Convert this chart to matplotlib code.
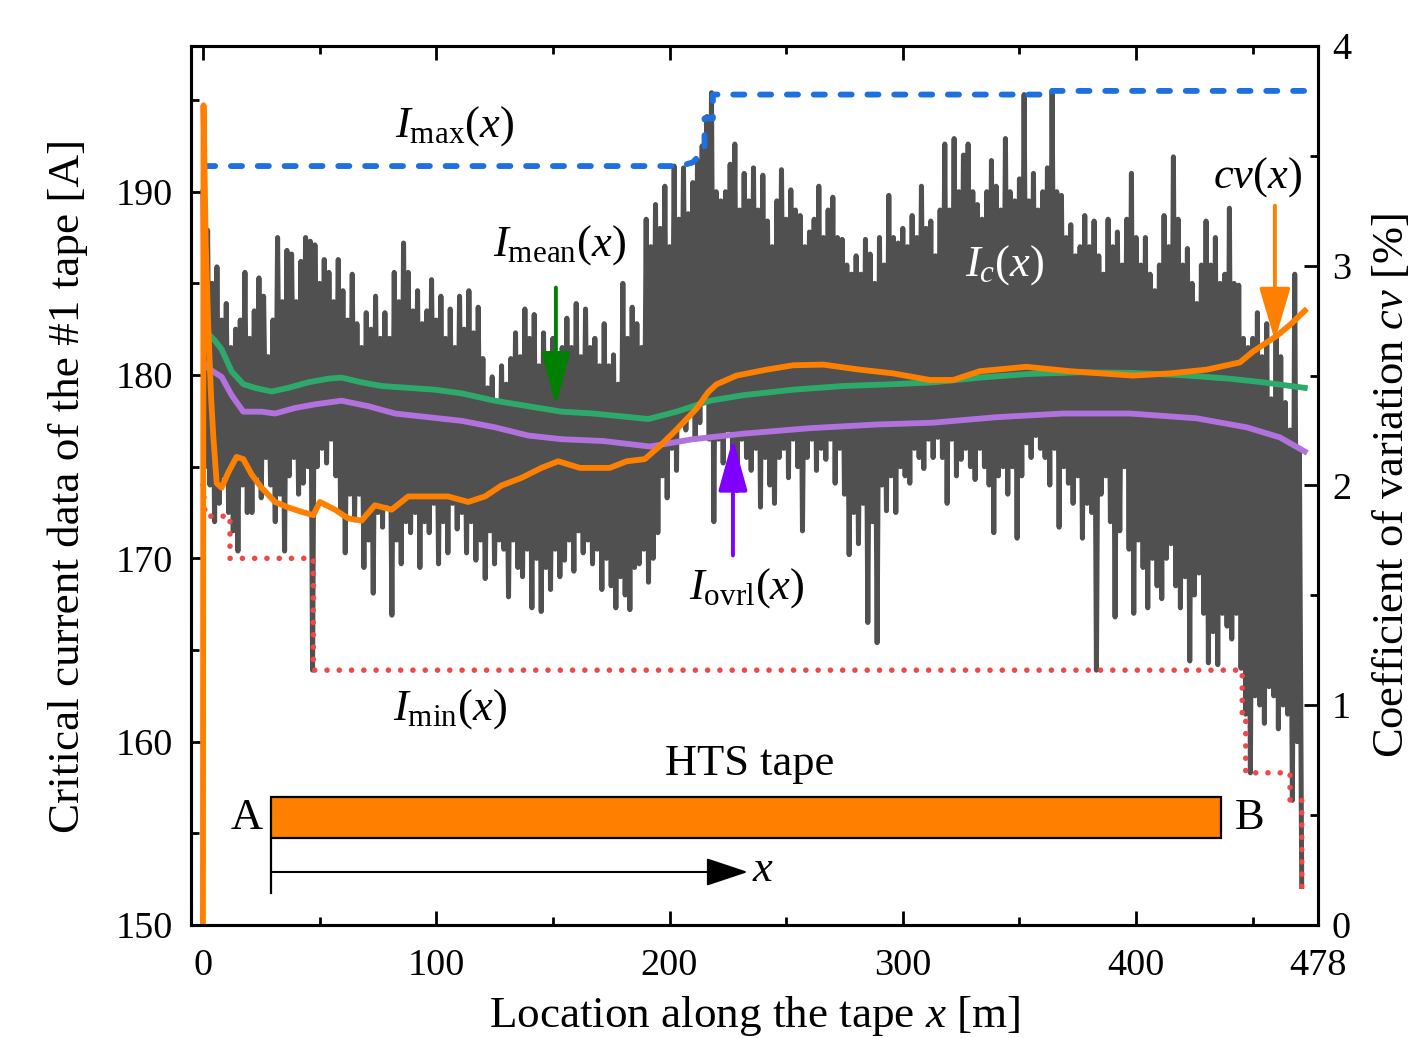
import numpy as np
import matplotlib
matplotlib.use("Agg")
import matplotlib.pyplot as plt
from matplotlib.patches import Rectangle
from matplotlib.ticker import FixedLocator, MultipleLocator

plt.rcParams['font.family'] = ['Liberation Serif', 'DejaVu Serif']
plt.rcParams['mathtext.fontset'] = 'custom'
plt.rcParams['mathtext.rm'] = 'Liberation Serif'
plt.rcParams['mathtext.it'] = 'Liberation Serif:italic'
plt.rcParams['mathtext.bf'] = 'Liberation Serif:bold'

# Ic(x): local peaks (even metres) and dips (odd metres) along the tape, in A
ic_peak = [
    190.0, 187.9, 185.0, 185.9, 183.0, 183.9, 181.5, 182.5, 183.0, 185.6,
    182.0, 183.5, 185.3, 184.3, 181.0, 183.0, 187.5, 184.0, 186.8, 186.6,
    184.0, 186.2, 187.5, 187.3, 187.1, 185.0, 186.3, 185.6, 184.0, 186.3,
    184.6, 183.0, 185.5, 182.8, 181.5, 183.4, 182.5, 184.3, 182.0, 183.4,
    182.0, 185.6, 184.0, 187.2, 185.6, 183.5, 184.6, 182.8, 183.5, 185.2,
    183.0, 184.3, 182.0, 183.6, 181.5, 184.3, 182.5, 184.6, 182.3, 183.7,
    180.9, 179.3, 179.9, 178.5, 180.5, 179.5, 180.9, 182.3, 181.0, 183.6,
    182.0, 183.3, 180.5, 182.3, 181.0, 182.0, 180.5, 181.5, 183.1, 181.5,
    183.9, 181.0, 183.6, 181.5, 182.0, 180.5, 182.8, 180.5, 181.1, 179.5,
    185.0, 182.0, 183.7, 182.8, 181.5, 188.5, 187.0, 189.3, 188.0, 190.3,
    187.0, 191.4, 188.5, 191.3, 188.8, 190.5, 191.7, 192.5, 194.1, 195.4,
    190.0, 189.5, 190.0, 191.5, 192.6, 189.0, 191.0, 189.5, 191.3, 189.0,
    190.9, 188.4, 187.0, 189.5, 191.2, 188.5, 190.1, 189.0, 188.7, 187.0,
    187.8, 188.5, 190.3, 187.5, 189.0, 189.7, 187.5, 187.4, 186.0, 185.5,
    186.5, 185.5, 187.4, 186.6, 185.0, 187.5, 186.0, 189.8, 187.5, 187.2,
    188.0, 187.0, 188.7, 187.5, 190.3, 188.0, 188.4, 186.5, 189.0, 192.6,
    189.0, 192.9, 190.0, 192.0, 192.6, 190.0, 189.3, 188.5, 190.0, 191.7,
    190.3, 189.0, 192.9, 190.0, 189.5, 190.7, 195.3, 189.5, 191.0, 189.0,
    190.0, 191.3, 195.5, 190.0, 189.8, 187.5, 188.2, 186.5, 187.0, 188.7,
    187.0, 188.4, 186.5, 185.5, 188.5, 187.0, 187.8, 186.0, 188.5, 191.0,
    187.5, 186.0, 187.5, 185.5, 184.6, 186.0, 188.7, 187.0, 191.9, 188.5,
    186.0, 186.9, 185.0, 183.9, 186.0, 188.4, 186.0, 187.5, 185.0, 185.5,
    189.1, 185.0, 184.9, 182.0, 181.5, 182.0, 183.4, 181.0, 182.8, 178.7,
    182.0, 181.0, 178.5, 177.0, 185.5, 176.0,
]
ic_dip = [
    175.0, 174.0, 172.0, 173.0, 174.5, 172.5, 171.5, 170.4, 174.0, 172.5,
    172.5, 174.5, 173.3, 175.5, 174.0, 172.0, 173.5, 170.4, 174.5, 175.5,
    173.5, 174.1, 175.0, 163.9, 175.0, 176.0, 175.2, 176.5, 174.5, 172.5,
    170.3, 173.5, 172.1, 173.5, 169.5, 171.0, 168.1, 172.5, 171.7, 173.0,
    166.9, 171.0, 169.7, 172.0, 171.4, 172.5, 169.5, 172.0, 171.4, 173.0,
    169.7, 172.0, 170.3, 173.0, 171.6, 172.5, 170.3, 172.0, 169.9, 171.0,
    168.9, 171.5, 169.7, 171.0, 170.5, 167.9, 171.0, 169.5, 169.0, 170.5,
    167.3, 170.0, 167.1, 169.5, 168.3, 170.5, 169.0, 169.9, 171.0, 169.3,
    171.5, 170.3, 171.0, 169.7, 170.5, 168.3, 170.0, 168.5, 167.3, 169.0,
    168.0, 167.2, 169.5, 169.7, 170.5, 168.7, 170.0, 171.4, 174.5, 173.3,
    176.0, 174.8, 177.5, 177.0, 178.0, 176.5, 177.4, 179.0, 176.5, 172.0,
    176.5, 175.2, 177.0, 176.0, 173.7, 176.5, 175.5, 174.8, 176.0, 172.8,
    175.5, 174.0, 173.0, 175.5, 176.0, 174.4, 176.5, 175.0, 171.5, 175.5,
    176.5, 174.8, 176.0, 175.4, 176.5, 174.1, 176.0, 173.5, 170.2, 172.5,
    170.8, 173.0, 166.5, 172.0, 165.4, 174.0, 172.6, 174.5, 172.5, 175.0,
    174.5, 174.1, 176.0, 175.5, 174.9, 176.5, 175.5, 176.6, 175.5, 173.0,
    176.5, 174.5, 175.4, 176.0, 175.0, 174.3, 176.0, 175.0, 174.0, 171.4,
    174.5, 175.0, 173.5, 175.0, 171.1, 174.5, 176.3, 175.5, 176.7, 176.0,
    175.5, 174.0, 176.0, 171.7, 175.0, 174.1, 173.0, 174.5, 171.1, 173.0,
    172.5, 163.9, 173.5, 174.5, 172.0, 166.8, 171.5, 175.0, 170.5, 167.0,
    171.0, 169.5, 167.3, 170.0, 168.5, 167.8, 170.0, 170.8, 168.5, 167.3,
    169.0, 164.4, 168.0, 169.2, 167.0, 164.3, 166.0, 164.2, 167.0, 166.3,
    165.6, 167.0, 164.0, 161.5, 158.3, 162.5, 162.0, 161.0, 163.0, 162.5,
    160.7, 162.0, 161.5, 156.8, 160.0, 152.1,
]

# running maximum / minimum of Ic
imax_x = [0.5, 204.5, 210.0, 215.0, 215.0, 218.6, 218.6, 364.0, 364.0, 472.0]
imax_y = [191.4, 191.4, 191.6, 192.3, 194.0, 194.0, 195.3, 195.3, 195.5, 195.5]
imin_x = [0.0, 1.0, 11.6, 11.6, 47.3, 47.3, 445.5, 445.5, 447.0, 447.0,
          466.0, 466.0, 471.0, 471.0]
imin_y = [174.0, 172.3, 172.3, 170.0, 170.0, 163.9, 163.9, 161.4, 161.4, 158.3,
          158.3, 156.8, 156.8, 152.1]

# running mean
imean_x = [1, 2.3, 5, 8, 12.3, 17.3, 22.3, 29.4, 36.6, 45.1, 53.7, 59.4, 68,
           76.6, 88, 99.4, 110.9, 125.1, 139.4, 153.7, 167.3, 190.9, 203, 217.3,
           231.6, 253, 274.4, 295.9, 313, 333, 354.5, 375.9, 397.3, 418.7,
           440.2, 454.5, 472.3]
imean_y = [182.6, 182.25, 181.9, 181.4, 180.2, 179.5, 179.3, 179.1, 179.3,
           179.6, 179.8, 179.86, 179.6, 179.4, 179.3, 179.2, 179.0, 178.6,
           178.3, 178.0, 177.9, 177.6, 178.0, 178.6, 178.9, 179.2, 179.4,
           179.5, 179.6, 179.86, 180.06, 180.15, 180.12, 180.0, 179.8, 179.6,
           179.3]

# overall (lower) level
iovrl_x = [1, 2.3, 8, 12.3, 17.3, 25.1, 30.9, 39.4, 48, 59.4, 70.9, 82.3, 96.6,
           110.9, 125.1, 139.4, 153.7, 171.6, 191.6, 210.1, 231.6, 260.1, 288.7,
           313, 340.2, 368.7, 397.3, 425.9, 447.3, 461.6, 472.3]
iovrl_y = [180.6, 180.36, 179.9, 178.9, 178.0, 178.0, 177.9, 178.2, 178.4,
           178.6, 178.3, 177.9, 177.7, 177.5, 177.15, 176.7, 176.5, 176.4,
           176.1, 176.5, 176.8, 177.1, 177.3, 177.4, 177.7, 177.9, 177.9,
           177.64, 177.15, 176.6, 175.83]

# coefficient of variation, %
cv_x = [0, 0.25, 1.2, 2.3, 3.5, 4.4, 5.9, 8, 10.9, 14.4, 17.3, 20.9, 25.1,
        30.9, 36.6, 42.3, 47.3, 50.1, 56.6, 62.3, 68, 73.7, 80.9, 88, 96.6,
        105.1, 113.7, 120.9, 128, 136.6, 145.1, 152.3, 161.6, 174.4, 181.6,
        189.4, 195.9, 203, 211.6, 216.6, 220.1, 228.7, 241.6, 253, 265.9,
        281.6, 295.9, 311.6, 321.6, 333, 353, 371.6, 398.7, 414.5, 430.2,
        444.5, 450.2, 460.2, 465.9, 472.3]
cv_y = [0, 3.73, 3.1, 2.72, 2.4, 2.23, 2.01, 1.99, 2.06, 2.13, 2.12, 2.05,
        1.99, 1.925, 1.90, 1.88, 1.865, 1.925, 1.89, 1.85, 1.84, 1.91, 1.89,
        1.95, 1.95, 1.95, 1.925, 1.95, 2.0, 2.035, 2.08, 2.11, 2.08, 2.08,
        2.11, 2.12, 2.18, 2.254, 2.35, 2.425, 2.46, 2.50, 2.527, 2.547, 2.55,
        2.527, 2.51, 2.48, 2.48, 2.52, 2.54, 2.52, 2.50, 2.51, 2.527, 2.56,
        2.61, 2.68, 2.73, 2.795]

xticks = [0, 100, 200, 300, 400, 478]
tape_len = 478

# zig-zag trace: peak on even metre, dip on the odd metre after it
n = len(ic_peak)
ic_x = np.empty(2 * n)
ic_y = np.empty(2 * n)
ic_x[0::2] = np.arange(n) * 2.0
ic_x[1::2] = np.arange(n) * 2.0 + 1.0
ic_y[0::2] = ic_peak
ic_y[1::2] = ic_dip

fig = plt.figure(figsize=(14.13, 10.38), dpi=100)
ax = fig.add_axes([0.1352, 0.1089, 0.7976, 0.8468])
ax2 = ax.twinx()

ax.plot(ic_x, ic_y, color='#505050', lw=3.6, solid_joinstyle='round', zorder=2)
ax.plot(imax_x, imax_y, color='#1E6FE0', lw=4.2, ls=(0, (1.9, 2.7)),
        dash_capstyle='round', zorder=3)
ax.plot(imin_x, imin_y, color='#F04848', lw=4.0, ls=(0, (0.01, 2.2)),
        dash_capstyle='round', zorder=3)
ax.plot(imean_x, imean_y, color='#2DAA6B', lw=4.2, zorder=4)
ax.plot(iovrl_x, iovrl_y, color='#B272DE', lw=4.2, zorder=4)
ax2.plot(cv_x, cv_y, color='#FF8000', lw=4.2)

ax.set_xlim(-5.1, tape_len)
ax.set_ylim(150, 197.95)
ax2.set_ylim(0, 4)

ax.set_xticks(xticks)
ax.xaxis.set_minor_locator(FixedLocator([50, 150, 250, 350, 450]))
ax.set_yticks([150, 160, 170, 180, 190])
ax.yaxis.set_minor_locator(MultipleLocator(5))
ax2.set_yticks([0, 1, 2, 3, 4])
ax2.yaxis.set_minor_locator(MultipleLocator(0.5))

ax.tick_params(which='both', direction='in', top=True, right=False, width=2)
ax.tick_params(which='major', length=10, labelsize=27.5)
ax.tick_params(which='minor', length=6)
ax.tick_params(axis='y', pad=13)
ax.tick_params(axis='x', pad=17)
ax2.tick_params(which='both', direction='in', width=2)
ax2.tick_params(which='major', length=10, labelsize=27.5, pad=10)
ax2.tick_params(which='minor', length=6)
for a in (ax, ax2):
    for s in a.spines.values():
        s.set_linewidth(2.2)

ax.set_xlabel('Location along the tape $x$ [m]', fontsize=32.5, labelpad=8)
ax.set_ylabel('Critical current data of the #1 tape [A]', fontsize=32.5, labelpad=20)
ax2.set_ylabel('Coefficient of variation $cv$ [%]', fontsize=32, labelpad=14)

fs = 32
ax.text(108, 193.6, r'$I_{\mathrm{max}}(x)$', fontsize=fs, ha='center', va='center')
ax.text(153, 187.1, r'$I_{\mathrm{mean}}(x)$', fontsize=fs, ha='center', va='center')
ax.text(343.8, 186.0, r'$I_c(x)$', fontsize=fs, ha='center', va='center',
        color='white', zorder=6)
ax.text(452.2, 190.8, r'$cv(x)$', fontsize=fs, ha='center', va='center')
ax.text(233.2, 168.4, r'$I_{\mathrm{ovrl}}(x)$', fontsize=fs, ha='center', va='center')
ax.text(105.9, 161.8, r'$I_{\mathrm{min}}(x)$', fontsize=fs, ha='center', va='center')


def pointer(tip, tail, color, hw):
    ax.annotate('', xy=tip, xytext=tail, zorder=7,
                arrowprops=dict(arrowstyle='-|>,head_length=1.08,head_width=%s' % hw,
                                mutation_scale=30, lw=2.8, color=color,
                                shrinkA=0, shrinkB=0))


pointer((151.3, 178.34), (151.3, 184.77), '#008000', 0.29)
pointer((227.2, 176.54), (227.2, 170.16), '#8000FF', 0.30)
pointer((459.5, 181.88), (459.5, 189.24), '#FF8000', 0.32)

# sketch of the tape with its A and B ends
ax.add_patch(Rectangle((29.1, 154.74), 407.2, 2.24, fc='#FF8000', ec='black',
                       lw=1.6, zorder=5))
ax.text(234.5, 158.8, 'HTS tape', fontsize=fs, ha='center', va='center')
ax.text(18.9, 155.83, 'A', fontsize=fs, ha='center', va='center')
ax.text(448.8, 155.83, 'B', fontsize=fs, ha='center', va='center')
ax.plot([29.1, 29.1], [151.75, 154.64], color='black', lw=1.6, zorder=5)
ax.annotate('', xy=(233.6, 152.89), xytext=(29.1, 152.89), zorder=5,
            arrowprops=dict(arrowstyle='-|>,head_length=1.2,head_width=0.4',
                            mutation_scale=22, lw=1.5, color='black',
                            shrinkA=0, shrinkB=0))
ax.text(240.0, 153.0, '$x$', fontsize=fs, ha='center', va='center')

fig.savefig('out.png', dpi=100)
